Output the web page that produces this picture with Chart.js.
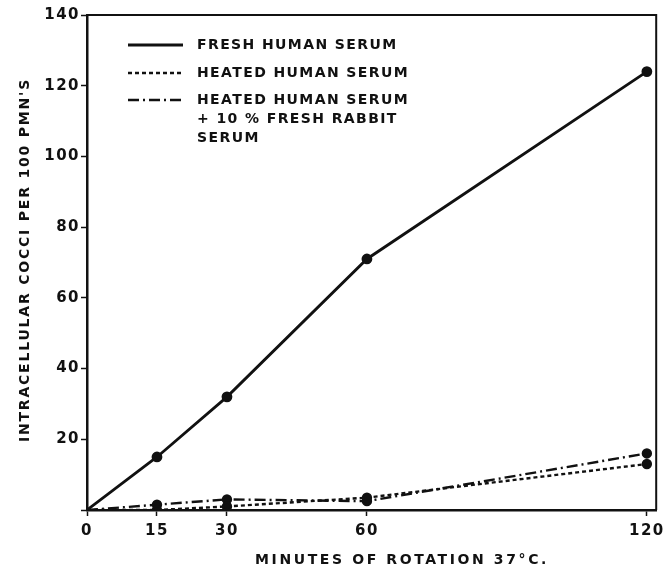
<!DOCTYPE html>
<html>
<head>
<meta charset="utf-8">
<script src="https://cdn.jsdelivr.net/npm/chart.js@4"></script>
<style>
  html, body { margin: 0; padding: 0; background: #fff; }
  #wrap { width: 663px; height: 574px; }
</style>
</head>
<body>
<div id="wrap"><canvas id="chart"></canvas></div>
<script>
// data
const minutes = [0, 15, 30, 60, 120];
const freshHuman = [0, 15, 32, 71, 124];
const heatedHuman = [0, 0, 1, 3.5, 13];
const heatedPlusRabbit = [0, 1.5, 3, 2.5, 16];
const yTicks = [0, 20, 40, 60, 80, 100, 120, 140];

const legendLabels = [
  ['FRESH HUMAN SERUM'],
  ['HEATED HUMAN SERUM'],
  ['HEATED HUMAN SERUM', '+ 10 % FRESH RABBIT', 'SERUM']
];
const xTitle = 'MINUTES OF ROTATION 37°C.';
const yTitle = "INTRACELLULAR COCCI PER 100 PMN'S";

const FONT = "'DejaVu Sans', sans-serif";
const INK = '#111';

const toPoints = ys => minutes.map((m, i) => ({ x: m, y: ys[i] }));
const dotRadius = ctx => (ctx.raw && ctx.raw.x === 0 ? 0 : 4);

// frame, legend and axis titles
const decorations = {
  id: 'decorations',
  beforeDraw(chart) {
    // the lettering in the figure is wide, so space the tick labels out a bit
    chart.ctx.letterSpacing = '1.5px';
  },
  afterDraw(chart) {
    const { ctx, chartArea: a } = chart;
    ctx.save();
    ctx.strokeStyle = INK;
    ctx.lineWidth = 2;
    ctx.beginPath();
    ctx.moveTo(a.left, a.top);
    ctx.lineTo(a.right, a.top);
    ctx.lineTo(a.right, a.bottom);
    ctx.stroke();

    // legend
    ctx.fillStyle = INK;
    ctx.font = 'bold 14px ' + FONT;
    ctx.letterSpacing = '1.4px';
    ctx.textBaseline = 'middle';
    const rows = [45, 73, 100];
    chart.data.datasets.forEach((ds, i) => {
      const y = rows[i];
      ctx.beginPath();
      ctx.lineWidth = ds.borderWidth;
      ctx.setLineDash(ds.borderDash || []);
      ctx.moveTo(128, y);
      ctx.lineTo(183, y);
      ctx.stroke();
      ctx.setLineDash([]);
      legendLabels[i].forEach((t, j) => ctx.fillText(t, 197, y + j * 19));
    });

    // axis titles
    ctx.font = 'bold 14px ' + FONT;
    ctx.letterSpacing = '2.6px';
    ctx.textAlign = 'center';
    ctx.fillText(xTitle, 402, 560);
    ctx.letterSpacing = '1.8px';
    ctx.translate(25, 260);
    ctx.rotate(-Math.PI / 2);
    ctx.fillText(yTitle, 0, 0);
    ctx.restore();
    ctx.letterSpacing = '0px';
  }
};

new Chart(document.getElementById('chart'), {
  type: 'line',
  data: {
    datasets: [
      {
        label: legendLabels[0].join(' '),
        data: toPoints(freshHuman),
        borderColor: INK, backgroundColor: INK,
        borderWidth: 2.8,
        pointRadius: dotRadius
      },
      {
        label: legendLabels[1].join(' '),
        data: toPoints(heatedHuman),
        borderColor: INK, backgroundColor: INK,
        borderWidth: 2.4,
        borderDash: [4, 3],
        pointRadius: dotRadius
      },
      {
        label: legendLabels[2].join(' '),
        data: toPoints(heatedPlusRabbit),
        borderColor: INK, backgroundColor: INK,
        borderWidth: 2.4,
        borderDash: [11, 4, 2, 4],
        pointRadius: dotRadius
      }
    ]
  },
  options: {
    responsive: true,
    maintainAspectRatio: false,
    animation: false,
    layout: { padding: { top: 15, right: 6, left: 0, bottom: 0 } },
    plugins: { legend: { display: false }, tooltip: { enabled: false } },
    scales: {
      x: {
        type: 'linear',
        min: 0, max: 122,
        afterBuildTicks: s => { s.ticks = minutes.map(v => ({ value: v })); },
        afterFit: s => { s.height = 64; s.paddingLeft = 0; s.paddingRight = 0; },
        grid: { drawOnChartArea: false, color: INK, tickLength: 6, tickWidth: 1.5 },
        border: { color: INK, width: 2.5 },
        ticks: { color: INK, font: { family: FONT, size: 15, weight: 'bold' }, padding: 6, maxRotation: 0 }
      },
      y: {
        min: 0, max: 140,
        afterBuildTicks: s => { s.ticks = yTicks.map(v => ({ value: v })); },
        afterFit: s => { s.width = 87; s.paddingTop = 0; s.paddingBottom = 0; },
        grid: { drawOnChartArea: false, color: INK, tickLength: 6, tickWidth: 1.5 },
        border: { color: INK, width: 2.5 },
        ticks: {
          color: INK, font: { family: FONT, size: 15, weight: 'bold' }, padding: 1,
          callback: v => (v === 0 ? '' : v)
        }
      }
    }
  },
  plugins: [decorations]
});
</script>
</body>
</html>
